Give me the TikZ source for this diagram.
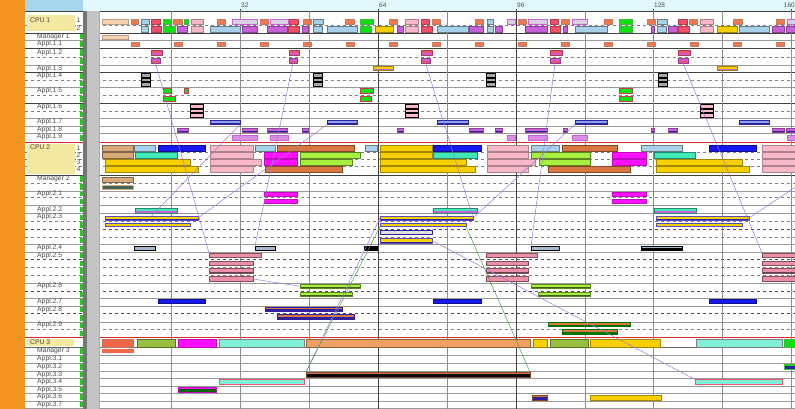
\documentclass[tikz,border=0pt]{standalone}
\usepackage{fontspec}
\setmainfont{Liberation Sans}
\usepackage{xcolor}
\usepackage{tikz}
\usetikzlibrary{positioning}
\definecolor{colStrip}{HTML}{F39320}
\definecolor{colHdrL}{HTML}{A8D6EC}
\definecolor{colHdrC}{HTML}{E2F8FC}
\definecolor{colPanel}{HTML}{C4C4C4}
\definecolor{colPanelD}{HTML}{767676}
\definecolor{colCpu}{HTML}{F2E8A0}
\definecolor{colTxt}{HTML}{4A4A4A}
\definecolor{colDot}{HTML}{2CC02C}
\definecolor{colGrid}{HTML}{8C8C8C}
\definecolor{colRowR}{HTML}{E02828}
\definecolor{colLink}{HTML}{A078E0}
\definecolor{colGLink}{HTML}{4CA050}
\definecolor{colPeach}{HTML}{F8D2B0}
\definecolor{colOrg}{HTML}{F07850}
\definecolor{colSky}{HTML}{A8D0E8}
\definecolor{colRed}{HTML}{F05068}
\definecolor{colGrn}{HTML}{10E010}
\definecolor{colPink}{HTML}{F8B8C8}
\definecolor{colLav}{HTML}{D8D0E0}
\definecolor{colVio}{HTML}{C860D8}
\definecolor{colGold}{HTML}{F8D000}
\definecolor{colTan}{HTML}{D8A878}
\definecolor{colBlu}{HTML}{1818F0}
\definecolor{colAqua}{HTML}{40E8B8}
\definecolor{colMag}{HTML}{FF10FF}
\definecolor{colLime}{HTML}{A8F040}
\definecolor{colBrn}{HTML}{D87840}
\definecolor{colSteel}{HTML}{A8B8D0}
\definecolor{colRose}{HTML}{EC90A8}
\definecolor{colSal}{HTML}{F06848}
\definecolor{colOlive}{HTML}{98C040}
\definecolor{colTurq}{HTML}{80F0D8}
\definecolor{colApr}{HTML}{F0A060}
\definecolor{colNavy}{HTML}{3020A0}
\definecolor{colSlate}{HTML}{406858}
\newcommand{\taskbar}[6]{\node[task,#1,minimum width={#4pt-#3pt},minimum height={#6pt-#5pt}] (#2) at (#3,#5) {};}

\begin{document}
\begin{tikzpicture}[x=1pt, y=-1pt,
    task/.style={anchor=north west, inner sep=0pt, outer sep=0pt, line width=0.4pt},
    ul/.style={path picture={\fill[#1] ([yshift=1.6pt]path picture bounding box.south west) rectangle (path picture bounding box.south east);}},
    uln/.style={path picture={\fill[#1] ([yshift=1pt]path picture bounding box.south west) rectangle (path picture bounding box.south east);}},
    ulw/.style={path picture={\fill[#1] ([yshift=2.6pt]path picture bounding box.south west) rectangle (path picture bounding box.south east);}},
    tPeach/.style={fill=colPeach, draw=colPeach!75!black},
    tOrg/.style={fill=colOrg, draw=colOrg!60!gray},
    tSky/.style={fill=colSky, draw=colSky!60!black},
    tRed/.style={fill=colRed, draw=colRed!75!black},
    tGrn/.style={fill=colGrn, draw=colGrn!60!gray},
    tGrR/.style={fill=colGrn, draw=colRed!80!black},
    tPink/.style={fill=colPink, draw=colPink!70!black},
    tLav/.style={fill=colLav, draw=colVio},
    tVio/.style={fill=colVio, draw=colVio!70!black},
    tGold/.style={fill=colGold, draw=colGold!65!black},
    tGoldB/.style={fill=colGold, draw=colNavy!80, uln=colNavy},
    tTan/.style={fill=colTan, draw=colTan!60!black},
    tBlu/.style={fill=colBlu, draw=colBlu!60!black},
    tAqua/.style={fill=colAqua, draw=colAqua!60!black},
    tMag/.style={fill=colMag, draw=colMag!75!black},
    tLime/.style={fill=colLime, draw=colLime!55!black},
    tBrn/.style={fill=colBrn, draw=colBrn!60!black},
    tSteel/.style={fill=colSteel, draw=black},
    tRose/.style={fill=colRose, draw=colRose!55!black, uln=colRose!45!black},
    tSal/.style={fill=colSal, draw=colSal!60!gray},
    tOlive/.style={fill=colOlive, draw=colOlive!60!black},
    tTurq/.style={fill=colTurq, draw=gray},
    tApr/.style={fill=colApr, draw=colApr!60!black},
    tBlk/.style={fill=gray!70, draw=black, line width=0.7pt},
    tPkb/.style={fill=colPink, draw=black, line width=0.7pt},
    tSky7/.style={fill=colSky!80!blue, draw=colNavy, ul=colNavy},
    rowD/.style={draw=black!75, line width=0.8pt},
    rowG/.style={draw=gray!80, line width=0.5pt},
    rowS/.style={draw=gray, line width=0.5pt, dashed},
    rowSD/.style={draw=black!70, line width=0.6pt, dashed},
    rowR/.style={draw=colRowR, line width=1pt},
    grid/.style={draw=colGrid, line width=0.6pt},
    gridD/.style={draw=black!75, line width=0.8pt},
    lbl/.style={anchor=west, inner sep=0pt, text=colTxt, font=\fontsize{6.8}{7}\selectfont},
    tick/.style={anchor=west, inner sep=0pt, text=colTxt, font=\fontsize{6.5}{7}\selectfont},
    link/.style={draw=colLink, line width=0.5pt},
    glink/.style={draw=colGLink, line width=0.5pt}
]
\clip (0,0) rectangle (795,409);

% ------------------------------------------------------------
% Frame: strip, header, label column, gray panel
% ------------------------------------------------------------
\fill[white] (0,0) rectangle (795,409);
\fill[colStrip] (0,0) rectangle (25,409);
\fill[colHdrL] (25,0) rectangle (83,11.5);
\fill[colHdrC] (83,0) rectangle (795,11.5);

% row lines
\foreach \yy in {11.5,33,48,72,103,175} {\draw[rowD] (25,\yy) -- (795,\yy);}
\foreach \yy in {40,65,87,118,126,133.5,191,205.5,213.5,244.5,252,283,298,306,322,355,363,371,378,386,393,401,408} {\draw[rowG] (25,\yy) -- (795,\yy);}
\foreach \yy in {25,57,80,95,111,152,159,166,183,197.5,221,237,267,275,329.5} {\draw[rowS] (25,\yy) -- (795,\yy);}
\foreach \yy in {229,259.5,291,313.5} {\draw[rowSD] (25,\yy) -- (795,\yy);}
\foreach \yy in {142.5,337} {\draw[rowR] (25,\yy) -- (795,\yy);}
\draw[draw=black!60, line width=0.6pt] (25,347) -- (795,347);

\fill[colPanelD] (83,11.5) rectangle (86.5,409);
\fill[colPanel] (86.5,11.5) rectangle (99,409);
\draw[colPanelD!60] (99.5,11.5) -- (99.5,409);

% CPU label boxes
\fill[colCpu] (27,15.5) rectangle (75,31.5);
\fill[colCpu] (27,144) rectangle (75,173.5);
\fill[colCpu] (27,339) rectangle (74,346);

% green markers
\foreach \ya/\yb in {33/40,40/48,48/57,57/65,65/72,72/80,80/87,87/95,95/103,103/111,111/118,118/126,126/133.5,133.5/142,175/183,183/191,191/197.5,197.5/205.5,205.5/213.5,213.5/221,221/229,229/237,237/244.5,244.5/252,252/259.5,259.5/267,267/275,275/283,283/291,291/298,298/306,306/313.5,313.5/322,322/329.5,329.5/337,347/355,355/363,363/371,371/378,378/386,386/393,393/401,401/408,408/416} {\fill[colDot] (79.5,\ya+1.2) rectangle (82.5,\yb-1.2);}

% grid and time scale
\foreach \xa in {171,240,309,447,585,653,722,791} {\draw[grid] (\xa,11.5) -- (\xa,409);}
\foreach \xa in {378,516} {\draw[gridD] (\xa,11.5) -- (\xa,409);}
\foreach \xa/\tk in {240/32,378/64,516/96,653/128} {
  \node[tick] (T\tk) at (\xa+1,5) {\tk};
  \draw[colTxt] (\xa,9) -- (\xa,11.5);
}
\node[tick, anchor=east] (T160) at (795,5) {160};
\draw[colTxt] (791,9) -- (791,11.5);

% ------------------------------------------------------------
% Labels
% ------------------------------------------------------------
\node[lbl] (LC1) at (30,20) {CPU 1};
\node[lbl] (LC2) at (30,147.5) {CPU 2};
\node[lbl] (LC3) at (30,342.5) {CPU 3};
\foreach \d/\yy in {1/20.5,2/28.5} {\node[lbl] (C1d\d) at (76.5,\yy) {\d};}
\foreach \d/\yy in {1/148,2/155,3/162.5,4/169.5} {\node[lbl] (C2d\d) at (76.5,\yy) {\d};}
\foreach \nm/\yy [count=\k] in {Manager 1/36.5, Appl.1.1/44, Appl.1.2/52.5, Appl.1.3/68.5, Appl.1.4/76, Appl.1.5/91, Appl.1.6/107, Appl.1.7/122, Appl.1.8/129.5, Appl.1.9/137,
    Manager 2/179, Appl.2.1/194, Appl.2.2/209.5, Appl.2.3/217, Appl.2.4/248, Appl.2.5/255.5, Appl.2.6/286, Appl.2.7/302, Appl.2.8/309.5, Appl.2.9/325,
    Manager 3/351, Appl.3.1/359, Appl.3.2/367, Appl.3.3/374.5, Appl.3.4/382, Appl.3.5/389.5, Appl.3.6/397, Appl.3.7/404.5} {
  \node[lbl] (L\k) at (37,\yy) {\nm};
}

% ------------------------------------------------------------
% CPU 1 and its applications
% ------------------------------------------------------------
\foreach \xa/\xb/\sty in {102/128/tPeach, 131/138/tOrg, 141/149/tSky, 151/160/tRed, 163/171/tGrn, 173/182/tOrg, 184/188/tGrn, 191/203/tPink, 217/225/tOrg, 232/257/tLav, 260/268/tOrg, 270/288/tLav, 289/298/tRed, 303/311/tOrg, 313/323/tSky, 345/354/tOrg, 360/373/tGrn, 389/397/tOrg, 405/418/tPink, 421/429/tRed, 432/440/tOrg, 475/483/tOrg, 487/493/tSky, 507/515/tLav, 518/526/tOrg, 528/547/tLav, 550/558/tRed, 561/569/tOrg, 572/587/tLav, 604/612/tOrg, 619/632/tGrn, 647/655/tOrg, 657/667/tSky, 678/687/tRed, 689/697/tOrg, 700/713/tPink, 733/742/tOrg, 776/784/tOrg, 787/797/tLav} {
  \taskbar{\sty}{c1a-\xa}{\xa}{\xb}{19}{24.5}
}
\foreach \xa/\xb/\sty in {141/148/tSky, 151/161/tRed, 163/175/tGrn, 177/187/tVio, 191/203/tPink, 210/240/tSky, 242/257/tVio, 267/287/tVio, 288/299/tRed, 302/308/tVio, 313/322/tSky, 327/357/tSky, 360/371/tGrn, 375/393/tGold, 397/403/tVio, 405/418/tPink, 421/432/tRed, 437/468/tSky, 469/483/tVio, 487/493/tSky, 495/502/tVio, 525/547/tVio, 550/560/tRed, 563/567/tVio, 575/607/tSky, 619/632/tGrn, 651/654/tVio, 657/666/tSky, 668/677/tVio, 678/689/tRed, 700/713/tPink, 717/737/tGold, 739/769/tSky, 772/784/tVio, 786/797/tVio} {
  \taskbar{\sty}{c1b-\xa}{\xa}{\xb}{26.5}{32}
}
\taskbar{tPeach}{m1}{102}{128}{35}{39.5}
\foreach \xa in {131,174,217,260,303,346,389,432,475,518,561,604,647,690,733,776} {
  \taskbar{tOrg}{a11-\xa}{\xa}{\xa+8}{42.5}{46.5}
}
\foreach \xa/\xb in {151/162,289/299,421/432,550/562,678/690} {
  \taskbar{tRed, ulw=colVio}{a12u-\xa}{\xa}{\xb}{50.5}{55.5}
  \taskbar{tVio, ul=colRed}{a12l-\xa}{\xa}{\xb-2}{58.5}{63}
}
\foreach \xa/\xb in {373/393,717/737} {\taskbar{tGold, ul=colVio}{a13-\xa}{\xa}{\xb}{66}{70.5}}
\foreach \xa in {141,313,486,658} {
  \taskbar{tBlk}{a14-\xa-1}{\xa}{\xa+9}{73.5}{77}
  \taskbar{tBlk}{a14-\xa-2}{\xa}{\xa+9}{78}{81.5}
  \taskbar{tBlk}{a14-\xa-3}{\xa}{\xa+9}{82.5}{86}
}
\foreach \xa/\xb in {163/171,184/188,360/373,619/632} {\taskbar{tGrR}{a15u-\xa}{\xa}{\xb}{88.5}{93}}
\foreach \xa/\xb in {163/175,360/371,619/632} {\taskbar{tGrR}{a15l-\xa}{\xa}{\xb}{96.5}{101}}
\foreach \xa in {190,405,700} {
  \taskbar{tPkb}{a16-\xa-1}{\xa}{\xa+13}{104.5}{108}
  \taskbar{tPkb}{a16-\xa-2}{\xa}{\xa+13}{109}{112.5}
  \taskbar{tPkb}{a16-\xa-3}{\xa}{\xa+13}{113.5}{117}
}
\foreach \xa/\xb in {210/240,327/357,437/468,575/607,739/769} {\taskbar{tSky7}{a17-\xa}{\xa}{\xb}{120}{124.5}}
\foreach \xa/\xb in {177/188,242/257,267/287,302/308,397/403,469/483,495/502,525/547,563/567,651/654,668/677,772/784,786/797} {
  \taskbar{tVio, ul=colNavy}{a18-\xa}{\xa}{\xb}{128}{132.5}
}
\foreach \xa/\xb in {232/257,270/288,507/515,528/547,572/587,787/797} {
  \taskbar{fill=colVio!70!white, draw=colVio}{a19-\xa}{\xa}{\xb}{135}{140}
}

% ------------------------------------------------------------
% CPU 2 and its applications
% ------------------------------------------------------------
\foreach \xa/\xb/\sty in {102/133/tTan, 134/155/tSky, 158/205/tBlu, 210/253/tPink, 255/275/tSky, 277/354/tBrn, 365/377/tSky, 380/432/tGold, 433/481/tBlu, 487/528/tPink, 531/559/tSky, 562/617/tBrn, 641/682/tSky, 709/756/tBlu, 762/797/tPink} {
  \taskbar{\sty}{c2a-\xa}{\xa}{\xb}{145}{151}
}
\foreach \xa/\xb/\sty in {102/133/tTan, 135/177/tAqua, 210/253/tPink, 264/297/tMag, 300/360/tLime, 380/432/tGold, 433/477/tAqua, 487/528/tPink, 531/590/tLime, 612/646/tMag, 654/695/tAqua, 762/797/tPink} {
  \taskbar{\sty}{c2b-\xa}{\xa}{\xb}{152.5}{158}
}
\foreach \xa/\xb/\sty in {105/190/tGold, 210/261/tPink, 264/297/tMag, 300/352/tLime, 380/466/tGold, 487/535/tPink, 539/590/tLime, 612/646/tMag, 656/742/tGold, 762/797/tPink} {
  \taskbar{\sty}{c2c-\xa}{\xa}{\xb}{159.5}{165.5}
}
\foreach \xa/\xb/\sty in {105/198/tGold, 210/253/tPink, 265/342/tBrn, 380/475/tGold, 487/528/tPink, 548/630/tBrn, 656/749/tGold, 762/797/tPink} {
  \taskbar{\sty}{c2d-\xa}{\xa}{\xb}{166.5}{172.5}
}
\taskbar{tTan}{m2a}{102}{133}{177}{182}
\taskbar{fill=colSlate, draw=colTan}{m2b}{102}{133}{185}{189}
\foreach \xa/\xb in {264/297,612/646} {
  \taskbar{tMag}{a21u-\xa}{\xa}{\xb}{192}{196}
  \taskbar{tMag}{a21l-\xa}{\xa}{\xb}{199}{203}
}
\foreach \xa/\xb in {135/177,433/477,654/696} {\taskbar{tAqua, ul=colVio}{a22-\xa}{\xa}{\xb}{208}{213}}

\taskbar{tGoldB}{a23a}{105}{198}{216}{220}
\taskbar{tGoldB}{a23b}{105}{190}{223}{226.5}
\taskbar{tGoldB}{a23c}{380}{473}{216}{220}
\taskbar{tGoldB}{a23d}{380}{466}{223}{226.5}
\taskbar{fill=gray!25, draw=colNavy}{a23e}{380}{432}{230}{234}
\taskbar{tGoldB}{a23f}{380}{432}{238}{243}
\taskbar{tGoldB}{a23g}{656}{749}{216}{220}
\taskbar{tGoldB}{a23h}{656}{742}{223}{226.5}

\foreach \xa/\xb in {134/155,255/275,531/559} {\taskbar{tSteel}{a24-\xa}{\xa}{\xb}{246}{250.5}}
\taskbar{tSteel, ulw=black}{a24-641}{641}{682}{246}{250.5}
\taskbar{fill=black, draw=black}{a24-364}{364}{377}{246.5}{250}

\foreach \xa/\xb/\xc in {209/261/253,486/537/528,762/797/797} {
  \taskbar{tRose}{a25-\xa-1}{\xa}{\xb}{253}{257.5}
  \taskbar{tRose}{a25-\xa-2}{\xa}{\xc}{261}{265.5}
  \taskbar{tRose}{a25-\xa-3}{\xa}{\xc}{268.5}{273}
  \taskbar{tRose}{a25-\xa-4}{\xa}{\xc}{276.5}{281.5}
}
\taskbar{tLime, ul=colLime!40!black}{a26-300}{300}{360}{284}{288.5}
\taskbar{tLime, ul=colLime!40!black}{a26-300b}{300}{352}{292}{296.5}
\taskbar{tLime, ul=colLime!40!black}{a26-531}{531}{590}{284}{288.5}
\taskbar{tLime, ul=colLime!40!black}{a26-538b}{538}{590}{292}{296.5}
\foreach \xa/\xb in {158/205,433/481,709/756} {\taskbar{tBlu}{a27-\xa}{\xa}{\xb}{299}{303.5}}
\taskbar{fill=colBrn, draw=colNavy, ul=colNavy}{a28a}{265}{342}{307}{311}
\taskbar{fill=colBrn, draw=colNavy, ul=colNavy}{a28b}{277}{354}{314.5}{319}
\taskbar{fill=colBrn, draw=green!45!black, ul=green!45!black}{a29a}{548}{630}{322}{326.5}
\taskbar{fill=colBrn, draw=green!45!black, ul=green!45!black}{a29b}{562}{617}{329.5}{334}

% ------------------------------------------------------------
% CPU 3 and its applications
% ------------------------------------------------------------
\foreach \xa/\xb/\sty in {102/133/tSal, 137/175/tOlive, 178/216/tMag, 219/304/tTurq, 306/530/tApr, 533/547/tGold, 550/588/tOlive, 590/660/tGold, 696/782/tTurq, 784/797/tGrn} {
  \taskbar{\sty}{c3-\xa}{\xa}{\xb}{339}{347}
}
\taskbar{fill=colSal, draw=colSal}{m3}{102}{133}{349.5}{352}
\taskbar{tGrn, ulw=colNavy}{a32}{784}{797}{364}{369}
\taskbar{tBrn, ulw=black}{a33}{306}{530}{372}{377}
\taskbar{fill=colTurq, draw=colRed}{a34a}{219}{304}{379.5}{384}
\taskbar{fill=colTurq, draw=colRed}{a34b}{695}{782}{379.5}{384}
\taskbar{tMag, ulw=green!40!black}{a35}{178}{216}{387}{392}
\taskbar{tBrn, ulw=colNavy}{a36a}{532}{547}{395}{400}
\taskbar{tGold}{a36b}{590}{661}{395}{400}

% ------------------------------------------------------------
% message links
% ------------------------------------------------------------
\coordinate (rim) at (797,186);
\draw[link] (a12l-151.south) -- (a25-209-1.north west);
\draw[link] (a12l-289.south) -- (a24-255.north west);
\draw[link] (a17-327.south west) -- (a23a.east);
\draw[link] (a17-210.south east) -- (a23a.north);
\draw[link] (a12l-421.south) -- (a23c.east);
\draw[link] (a17-575.south west) -- (a23c.east);
\draw[link] (a12l-550.south) -- (a24-531.north west);
\draw[link] (a12l-678.south) -- (a25-762-1.north west);
\draw[link] (a23g.east) -- (rim);
\draw[link] (a23f.east) -- (a34b.north west);
\draw[link] (a25-209-4.east) -- (a26-300.west);
\draw[link] (a23c.west) -- (a33.north west);
\draw[glink] (a23d.south west) -- (a33.north west);
\draw[glink] (a23d.south east) -- (a33.north east);
\end{tikzpicture}
\end{document}
